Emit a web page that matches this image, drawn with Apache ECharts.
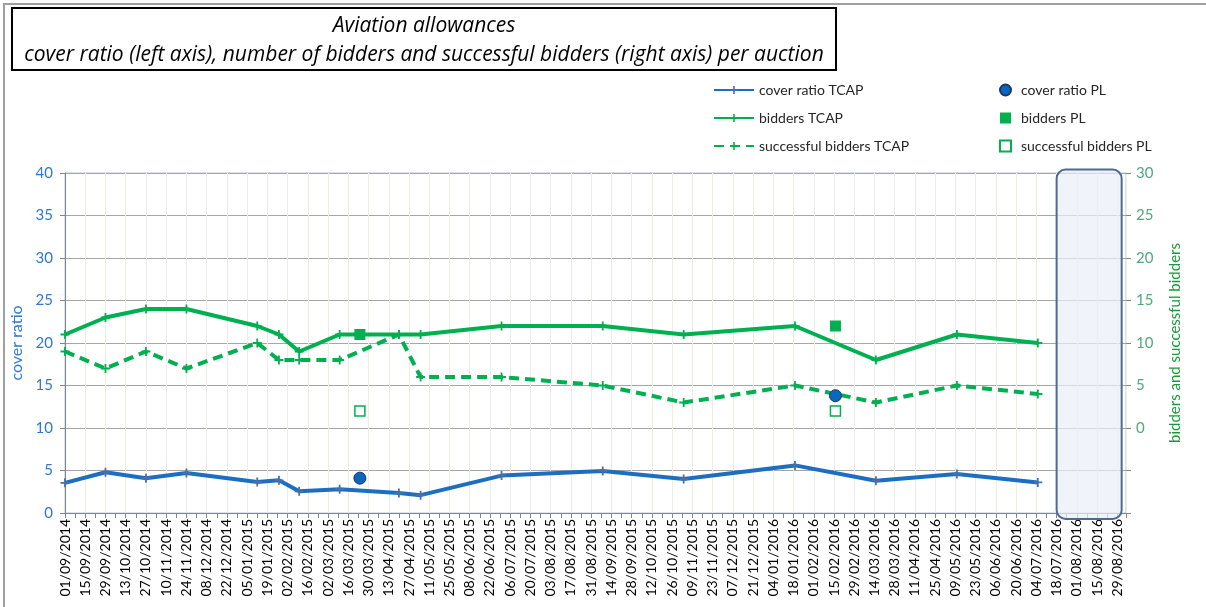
<!DOCTYPE html>
<html>
<head>
<meta charset="utf-8">
<script src="https://cdn.jsdelivr.net/npm/echarts@6/dist/echarts.min.js"></script>
<style>
  html, body { margin: 0; padding: 0; background: #fff; }
  #chart { width: 1206px; height: 607px; }
</style>
</head>
<body>
<div id="chart"></div>
<script>
// TCAP auctions
const tcapDates = [
  "01/09/2014", "29/09/2014", "27/10/2014", "24/11/2014", "12/01/2015", "27/01/2015",
  "10/02/2015", "10/03/2015", "20/04/2015", "05/05/2015", "30/06/2015", "08/09/2015",
  "03/11/2015", "19/01/2016", "15/03/2016", "10/05/2016", "05/07/2016"
];
const coverTCAP = [3.55, 4.8, 4.1, 4.7, 3.65, 3.85, 2.55, 2.8, 2.35, 2.1, 4.4, 4.95, 4.0, 5.6, 3.8, 4.6, 3.6];
const biddersTCAP = [11, 13, 14, 14, 12, 11, 9, 11, 11, 11, 12, 12, 11, 12, 8, 11, 10];
const successTCAP = [9, 7, 9, 7, 10, 8, 8, 8, 11, 6, 6, 5, 3, 5, 3, 5, 4];

// PL auctions
const plDates = ["24/03/2015", "16/02/2016"];
const coverPL = [4.1, 13.8];
const biddersPL = [11, 12];
const successPL = [2, 2];

// axis range (days, labels every two weeks)
const axisStart = "01/09/2014";
const axisEnd = "04/09/2016";
const lastLabel = "29/08/2016";
const shadedPeriod = ["18/07/2016", "01/09/2016"];

const titleLines = [
  "Aviation allowances",
  "cover ratio (left axis), number of bidders and successful bidders (right axis) per auction",
];

const DAY = 86400000;
const t0 = parse(axisStart);

function parse(s) {
  const p = s.split("/").map(Number);
  return Date.UTC(p[2], p[1] - 1, p[0]);
}
function toDay(s) {
  return Math.round((parse(s) - t0) / DAY);
}
function fmt(day) {
  const d = new Date(t0 + day * DAY);
  const pad = (n) => (n < 10 ? "0" + n : "" + n);
  return pad(d.getUTCDate()) + "/" + pad(d.getUTCMonth() + 1) + "/" + d.getUTCFullYear();
}
function pairs(dates, vals) {
  return dates.map((d, i) => [toDay(d), vals[i]]);
}

const BLUE = "#1c6fc0";
const GREEN = "#00b050";
const PLUS = "path://M4,0H6V4H10V6H6V10H4V6H0V4H4Z";
const FONT = "Lato";

const chart = echarts.init(document.getElementById("chart"));

const option = {
  animation: false,
  backgroundColor: "#fff",
  textStyle: { fontFamily: FONT },
  legend: [
    {
      orient: "vertical",
      left: 708,
      top: 78,
      itemWidth: 40,
      itemHeight: 10,
      itemGap: 14,
      textStyle: { fontSize: 14, color: "#262626" },
      data: ["cover ratio TCAP", "bidders TCAP", "successful bidders TCAP"],
    },
    {
      orient: "vertical",
      left: 994,
      top: 78,
      itemWidth: 11,
      itemHeight: 11,
      itemGap: 14,
      textStyle: { fontSize: 14, color: "#262626", padding: [0, 0, 0, 5] },
      data: ["cover ratio PL", "bidders PL", "successful bidders PL"],
    },
  ],
  grid: {
    left: 65,
    right: 80,
    top: 173,
    bottom: 94,
    show: true,
    borderColor: "#b4c7e7",
    borderWidth: 1,
  },
  xAxis: {
    type: "value",
    min: 0,
    max: toDay(axisEnd),
    interval: 14,
    axisLine: { lineStyle: { color: "#868686" } },
    axisTick: { show: true, length: 5, lineStyle: { color: "#868686" } },
    minorTick: { show: true, splitNumber: 2, length: 5, lineStyle: { color: "#868686" } },
    splitLine: { show: true, lineStyle: { color: "#ededE4" } },
    axisLabel: {
      rotate: 90,
      fontSize: 14,
      color: "#000",
      margin: 6,
      showMaxLabel: false,
      formatter: (v) => (v % 14 === 0 && v <= toDay(lastLabel) ? fmt(v) : ""),
    },
  },
  yAxis: [
    {
      type: "value",
      min: 0,
      max: 40,
      interval: 5,
      name: "cover ratio",
      nameLocation: "middle",
      nameGap: 38,
      nameTextStyle: { color: "#2e78d2", fontSize: 16 },
      axisLine: { show: true, lineStyle: { color: "#868686" } },
      axisTick: { show: true, length: 5, lineStyle: { color: "#868686" } },
      splitLine: { show: true, lineStyle: { color: "#a6a6a6" } },
      axisLabel: { color: "#2e78d2", fontSize: 15, margin: 12 },
    },
    {
      type: "value",
      position: "right",
      min: -10,
      max: 30,
      interval: 5,
      name: "bidders and successful bidders",
      nameLocation: "middle",
      nameGap: 42,
      nameRotate: 90,
      nameTextStyle: { color: "#1a9a3a", fontSize: 15 },
      axisLine: { show: false },
      axisTick: { show: true, length: 5, lineStyle: { color: "#868686" } },
      splitLine: { show: false },
      axisLabel: {
        color: "#4fa97c",
        fontSize: 15,
        margin: 10,
        formatter: (v) => (v < 0 ? "" : v),
      },
    },
  ],
  series: [
    {
      name: "cover ratio TCAP",
      type: "line",
      yAxisIndex: 0,
      data: pairs(tcapDates, coverTCAP),
      symbol: PLUS,
      symbolSize: 9,
      lineStyle: { color: BLUE, width: 4 },
      itemStyle: { color: "#4d6fa6" },
      z: 3,
    },
    {
      name: "bidders TCAP",
      type: "line",
      yAxisIndex: 1,
      data: pairs(tcapDates, biddersTCAP),
      symbol: PLUS,
      symbolSize: 9,
      lineStyle: { color: GREEN, width: 4 },
      itemStyle: { color: GREEN },
      z: 3,
    },
    {
      name: "successful bidders TCAP",
      type: "line",
      yAxisIndex: 1,
      data: pairs(tcapDates, successTCAP),
      symbol: PLUS,
      symbolSize: 9,
      lineStyle: { color: GREEN, width: 4, type: [10, 6] },
      itemStyle: { color: GREEN },
      z: 3,
    },
    {
      name: "cover ratio PL",
      type: "scatter",
      yAxisIndex: 0,
      data: pairs(plDates, coverPL),
      symbol: "circle",
      symbolSize: 12,
      itemStyle: { color: "#0b66bd", borderColor: "#1f3864", borderWidth: 1, opacity: 1 },
      z: 4,
    },
    {
      name: "bidders PL",
      type: "scatter",
      yAxisIndex: 1,
      data: pairs(plDates, biddersPL),
      symbol: "rect",
      symbolSize: 11,
      itemStyle: { color: GREEN, opacity: 1 },
      z: 4,
    },
    {
      name: "successful bidders PL",
      type: "scatter",
      yAxisIndex: 1,
      data: pairs(plDates, successPL),
      symbol: "rect",
      symbolSize: 10,
      itemStyle: { color: "#fff", borderColor: GREEN, borderWidth: 1.5, opacity: 1 },
      z: 4,
    },
  ],
};

chart.setOption(option);

// shaded period box, title box and outer frame
const pA = chart.convertToPixel({ xAxisIndex: 0, yAxisIndex: 0 }, [toDay(shadedPeriod[0]), 40.4]);
const pB = chart.convertToPixel({ xAxisIndex: 0, yAxisIndex: 0 }, [toDay(shadedPeriod[1]), -0.7]);
chart.setOption({
  graphic: [
    {
      type: "rect",
      z: 1,
      shape: { x: pA[0], y: pA[1], width: pB[0] - pA[0], height: pB[1] - pA[1], r: 9 },
      style: { fill: "rgba(234,239,248,0.7)", stroke: "#4f6a92", lineWidth: 2 },
    },
    {
      type: "rect",
      z: 0,
      silent: true,
      shape: { x: 4, y: 4, width: 1260, height: 660 },
      style: { fill: null, stroke: "#a0a0a0", lineWidth: 2 },
    },
    {
      type: "rect",
      z: 5,
      shape: { x: 12, y: 8, width: 824, height: 62 },
      style: { fill: "#fff", stroke: "#000", lineWidth: 2 },
    },
    {
      type: "text",
      z: 6,
      x: 424,
      y: 41,
      style: {
        text: titleLines.join("\n"),
        align: "center",
        verticalAlign: "middle",
        lineHeight: 29,
        font: "italic 21px 'Open Sans'",
        fill: "#000",
      },
    },
  ],
});

window.addEventListener("resize", () => chart.resize());
</script>
</body>
</html>
